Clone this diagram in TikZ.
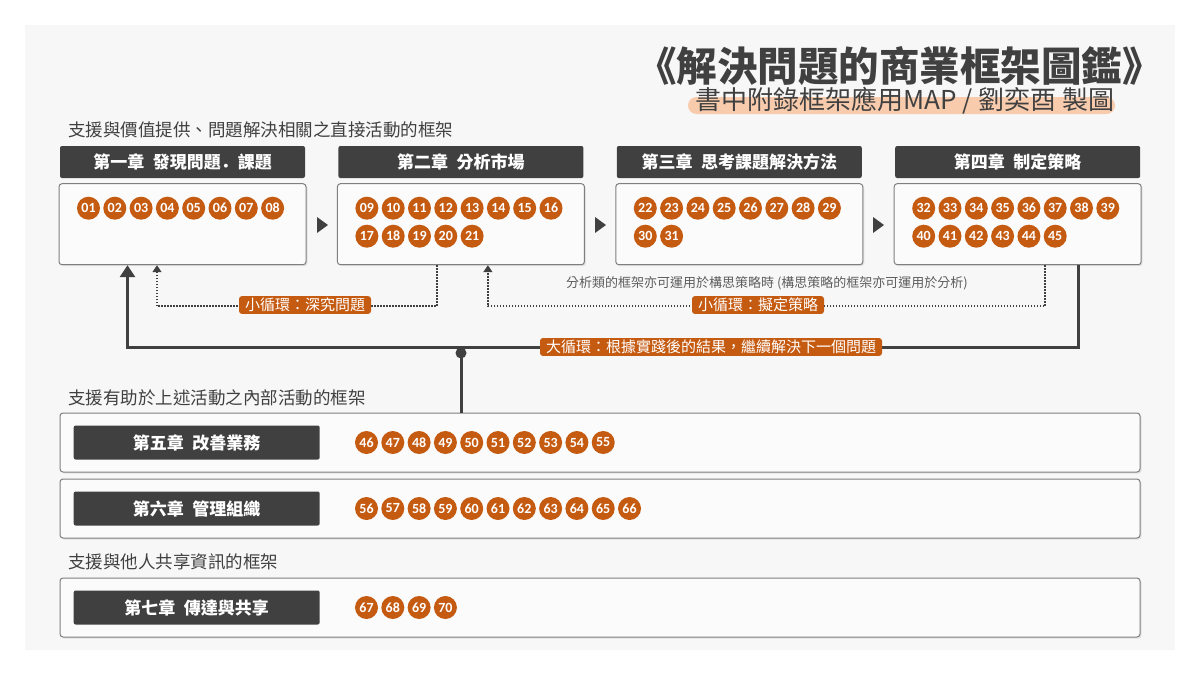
\documentclass[tikz,border=0pt]{standalone}
\usepackage{fontspec}
\setmainfont{Noto Sans CJK TC}
\newfontfamily\numfont{Carlito}
\newfontfamily\scfont{Noto Sans CJK SC}
\usetikzlibrary{positioning,arrows.meta,shadows}

\definecolor{ink}{HTML}{404040}
\definecolor{rust}{HTML}{C55A11}
\definecolor{paper}{HTML}{F7F7F7}
\definecolor{peach}{HTML}{F8CBAD}
\definecolor{frame}{HTML}{7F7F7F}

\newcommand{\twod}[1]{\ifnum#1<10 0\fi#1}

\begin{document}
\begin{tikzpicture}[x=1pt,y=-1pt,
  head/.style={fill=ink,text=white,rounded corners=2pt,inner sep=0,
    minimum width=245pt,minimum height=32pt,font=\fontsize{17}{19}\selectfont\bfseries},
  body/.style={draw=frame,fill=white!50!paper,rounded corners=3pt,line width=1pt,inner sep=0,
    drop shadow={opacity=.18,shadow xshift=1.5pt,shadow yshift=-1.5pt}},
  num/.style={circle,fill=rust,text=white,minimum size=23pt,inner sep=0,
    font=\numfont\fontsize{14}{14}\selectfont\bfseries},
  tag/.style={fill=rust,text=white,rounded corners=3pt,inner xsep=6pt,inner ysep=2pt,
    font=\fontsize{15}{17}\selectfont},
  sect/.style={anchor=west,inner sep=0,text=ink,font=\fontsize{17.5}{20}\selectfont},
  bigloop/.style={draw=ink,line width=3pt,-{Triangle[width=15pt,length=12pt]}},
  smallloop/.style={draw=ink,line width=1.6pt,dash pattern=on 1.6pt off 1.4pt,
    -{Triangle[width=9pt,length=7pt]}}]

  \useasboundingbox (0,0) rectangle (1200,675);
  \fill[white] (0,0) rectangle (1200,675);
  \fill[paper] (25,25) rectangle (1175,650);

  % title
  \node[anchor=east,inner sep=0,text=ink,font=\fontsize{40.5}{44}\selectfont\bfseries] (title) at (1163,66) {《解決問題的商業框架圖鑑》};
  \node[fill=peach,rounded corners=8.5pt,minimum width=427pt,minimum height=17pt,inner sep=0] (hl) at (901.5,105.5) {};
  \node[inner sep=0,text=ink,font=\fontsize{26}{28}\selectfont] (sub) at (905,101) {書中附錄框架應用MAP / 劉奕酉 製圖};

  \node[sect] (s1) at (68,130) {支援與價值提供、問題解決相關之直接活動的框架};
  \node[sect] (s2) at (68,398) {支援有助於上述活動之內部活動的框架};
  \node[sect] (s3) at (68,562) {支援與他人共享資訊的框架};

  % four chapters in a row
  \node[head] (h1) at (182.5,162) {第一章\hspace{.5em}發現問題{\scfont ．}課題};
  \node[head,right=33pt of h1] (h2) {第二章\hspace{.5em}分析市場};
  \node[head,right=33pt of h2] (h3) {第三章\hspace{.5em}思考課題解決方法};
  \node[head,right=33pt of h3] (h4) {第四章\hspace{.5em}制定策略};
  \foreach \i in {1,...,4}
    \node[body,minimum width=247pt,minimum height=81pt,below=5pt of h\i] (b\i) {};

  \foreach \b/\lo/\hi in {b1/1/8,b2/9/21,b3/22/31,b4/32/45}
    \foreach \n in {\lo,...,\hi} {
      \pgfmathtruncatemacro\col{mod(\n-\lo,8)}
      \pgfmathtruncatemacro\row{(\n-\lo)/8}
      \node[num] (n\n) at ([xshift={30+26.3*\col},yshift={-25-28*\row}]\b.north west) {\twod{\n}};
    }

  \foreach \x in {317,595,873}
    \fill[ink] (\x,217) -- ++(11,8) -- ++(-11,8) -- cycle;

  % loops
  \coordinate (bigR) at ([xshift=61pt]b4.south);
  \coordinate (bigL) at ([xshift=-55pt]b1.south);
  \node[circle,fill=ink,minimum size=11pt,inner sep=0] (dot) at (461,353) {};
  \draw[bigloop] (bigR) -- ++(0,82) -| (bigL);
  \node[tag] (big) at (711,347) {大循環：根據實踐後的結果，繼續解決下一個問題};

  \draw[smallloop] ([xshift=-24pt]b2.south) -- ++(0,41) -| ([xshift=-25.5pt]b1.south);
  \node[tag] (deep) at (305,305) {小循環：深究問題};
  \draw[smallloop] ([xshift=27.5pt]b4.south) -- ++(0,41) -| ([xshift=27pt]b2.south);
  \node[tag] (plan) at (758,305) {小循環：擬定策略};
  \node[inner sep=0,text=ink!85,font=\fontsize{13}{15}\selectfont] (note) at (767,283) {分析類的框架亦可運用於構思策略時 (構思策略的框架亦可運用於分析)};

  % three chapters below
  \node[body,minimum width=1080pt,minimum height=59pt] (b5) at (600,442.5) {};
  \node[body,minimum width=1080pt,minimum height=59pt,below=6pt of b5] (b6) {};
  \node[body,minimum width=1080pt,minimum height=59pt] (b7) at (600,607.5) {};
  \draw[ink,line width=3pt] (dot.center) -- (dot.center |- b5.north);

  \node[head,minimum width=246pt,minimum height=34pt,right=14pt of b5.west] (h5) {第五章\hspace{.5em}改善業務};
  \node[head,minimum width=246pt,minimum height=34pt,right=14pt of b6.west] (h6) {第六章\hspace{.5em}管理組織};
  \node[head,minimum width=246pt,minimum height=34pt,right=14pt of b7.west] (h7) {第七章\hspace{.5em}傳達與共享};

  \foreach \b/\lo/\hi in {b5/46/55,b6/56/66,b7/67/70}
    \foreach \n in {\lo,...,\hi}
      \node[num] (n\n) at ([xshift={307+26.3*(\n-\lo)}]\b.west) {\twod{\n}};

\end{tikzpicture}
\end{document}
